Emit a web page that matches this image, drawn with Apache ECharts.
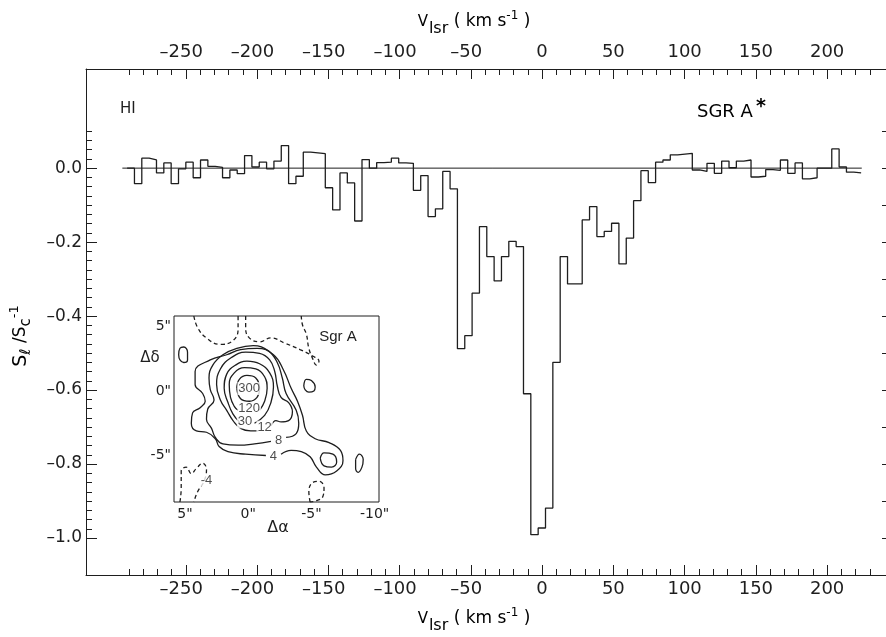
<!DOCTYPE html>
<html><head><meta charset="utf-8">
<script src="https://cdn.jsdelivr.net/npm/echarts@6/dist/echarts.min.js"></script>
<style>html,body{margin:0;padding:0;background:#fff}#c{width:886px;height:637px}</style>
</head><body><div id="c"></div>
<script>
// ---------------- data ----------------
// HI absorption spectrum toward Sgr A*: channel grid (km/s) and S_l/S_c - 1 per channel
const chanStart = -291.15;   // left edge of first channel
const chanWidth = 5.15;      // channel width
const absorption = [0.000,
 -0.042, 0.027, 0.022, -0.013, 0.014, -0.042, -0.002, 0.016, -0.026, 0.022,
  0.005, 0.002, -0.026, -0.005, -0.015, 0.034, 0.003, 0.016, -0.002, 0.019,
  0.061, -0.042, -0.022, 0.043, 0.041, 0.039, -0.053, -0.113, -0.013, -0.040,
 -0.143, 0.023, 0.000, 0.015, 0.016, 0.027, 0.014, 0.013, -0.060, -0.020,
 -0.131, -0.110, -0.009, -0.056, -0.488, -0.453, -0.338, -0.158, -0.239, -0.305,
 -0.239, -0.198, -0.212, -0.610, -0.991, -0.973, -0.919, -0.525, -0.239, -0.313,
 -0.313, -0.140, -0.104, -0.185, -0.171, -0.149, -0.259, -0.189, -0.088, -0.007,
 -0.039, 0.016, 0.022, 0.036, 0.038, 0.040, -0.005, -0.009, 0.013, -0.014,
  0.019, 0.001, 0.019, 0.022, -0.024, -0.022, -0.004, -0.006, 0.022, -0.014,
  0.014, -0.029, -0.026, 0.000, 0.000, 0.052, 0.003, -0.011, -0.013];
const zeroLineRange = [-294.5, 224.3];

// tick labels
const xMajorLabels = [-250, -200, -150, -100, -50, 0, 50, 100, 150, 200];
const yMajorLabels = [-1.0, -0.8, -0.6, -0.4, -0.2, 0.0];
const yRightTicks = [-1.0, -0.9, -0.8, -0.7, -0.6, -0.5, -0.4, -0.3, -0.2, -0.1, 0.0, 0.1];
const insetXLabels = [5, 0, -5, -10];
const insetYLabels = [5, 0, -5];

// inset: Sgr A continuum contour map (arcsec offsets)
const contour300 = [[0.9,0.2],[0.7,0.9],[0.1,1.2],[-0.6,1.0],[-0.9,0.2],[-0.7,-0.5],[-0.1,-0.8],[0.6,-0.6],[0.9,0.2]];
const contour120 = [[-0.9,-1.5],[-1.3,-0.8],[-1.5,0.2],[-1.3,1.1],[-0.6,1.7],[0.3,1.8],[1.1,1.4],[1.5,0.5],[1.4,-0.5],[1.1,-1.2],[0.8,-1.5]];
const contour30 = [[-0.5,-2.5],[-1.3,-1.9],[-1.8,-0.9],[-2.0,0.3],[-1.7,1.4],[-0.9,2.1],[0.1,2.3],[1.0,2.0],[1.7,1.3],[1.9,0.2],[1.6,-0.9],[1.2,-1.8],[0.7,-2.4]];
const contour12 = [[-1.8,-2.7],[-2.2,-2.3],[-2.6,-2.4],[-3.2,-2.3],[-3.5,-1.6],[-3.2,-0.9],[-2.6,-0.5],[-2.3,0.4],[-2.1,1.5],[-1.7,2.4],[-0.9,2.9],[0.2,3.0],[1.3,2.6],[2.2,1.7],[2.5,0.5],[2.2,-0.7],[1.7,-1.5],[1.2,-2.3],[0.6,-2.9],[-0.2,-3.1],[-0.8,-3.1]];
const contour8 = [[-3.0,-3.6],[-3.8,-3.3],[-4.0,-2.5],[-3.8,-1.5],[-3.0,-0.2],[-2.7,1.0],[-2.3,2.2],[-1.6,3.1],[-0.4,3.5],[0.9,3.3],[2.0,2.8],[2.8,2.0],[3.1,1.0],[3.0,0.1],[2.7,-0.7],[3.2,-1.4],[3.3,-2.2],[2.9,-2.9],[2.6,-3.6],[2.0,-4.1],[0.8,-4.2],[-0.5,-4.1],[-1.8,-3.9]];
const contour4 = [[-1.4,-5.0],[0.2,-4.9],[1.6,-4.7],[2.3,-4.3],[2.6,-3.7],[3.3,-3.2],[4.1,-3.1],[4.5,-2.5],[4.4,-1.7],[3.8,-1.3],[3.4,-0.8],[3.6,-0.2],[4.2,0.5],[4.2,1.5],[3.0,2.4],[1.7,2.8],[0.6,3.2],[-0.7,3.3],[-2.0,2.8],[-2.8,1.6],[-3.4,0.2],[-3.9,-0.8],[-4.3,-1.9],[-4.6,-3.1],[-5.3,-3.7],[-6.4,-4.0],[-7.3,-4.6],[-7.5,-5.4],[-7.0,-6.2],[-6.1,-6.5],[-5.4,-5.9],[-4.9,-5.1],[-4.2,-4.7],[-3.4,-4.6],[-2.6,-4.9]];
const lobe8 = [[-5.7,-5.2],[-6.0,-4.8],[-6.7,-4.9],[-7.0,-5.5],[-6.6,-5.9],[-6.0,-5.8],[-5.7,-5.2]];
const blobLeft = [[5.5,2.8],[5.4,3.3],[5.1,3.4],[4.8,3.0],[4.8,2.4],[5.1,2.2],[5.4,2.4],[5.5,2.8]];
const blobRight = [[-4.4,0.4],[-4.6,0.9],[-5.0,0.8],[-5.3,0.3],[-5.2,0.0],[-4.8,-0.1],[-4.5,0.1],[-4.4,0.4]];
const blobFar = [[-8.5,-5.3],[-8.8,-4.9],[-9.1,-5.3],[-9.0,-5.9],[-8.7,-6.3],[-8.5,-6.0],[-8.5,-5.3]];
const negTopLeft = [[4.3,5.8],[4.0,4.9],[3.3,4.1],[2.2,3.6],[1.2,3.9],[0.8,4.8],[0.8,5.8]];
const negTopRight = [[0.2,5.8],[0.2,5.0],[0.0,4.2],[-0.9,3.8],[-1.8,4.1],[-2.9,3.7],[-4.1,3.2],[-5.1,2.7],[-5.6,2.3],[-5.4,2.0],[-5.1,2.5],[-4.8,3.3],[-4.6,4.4],[-4.3,5.1],[-4.2,5.8]];
const negBottomLeft = [[5.4,-8.6],[5.3,-7.5],[5.3,-6.2],[4.9,-5.9],[4.5,-6.4],[4.1,-6.0],[3.6,-5.6],[3.3,-6.1],[3.5,-7.0],[4.0,-7.8],[4.3,-8.6]];
const negBottom = [[-4.9,-8.6],[-4.8,-7.8],[-5.1,-7.1],[-5.6,-7.0],[-6.0,-7.5],[-5.9,-8.2],[-5.4,-8.5],[-4.9,-8.6]];
const contourLabels = [[-0.08,0.18,'300'],[-0.08,-1.37,'120'],[0.25,-2.4,'30'],[-1.3,-2.8,'12'],[-2.4,-3.8,'8'],[-2.0,-5.1,'4'],[3.3,-6.9,'-4']];

// ---------------- build ----------------
const ink = '#1e1e1e';
const FONT = 'DejaVu Sans';
function range(a, b, s) { const r = []; for (let v = a; v <= b + 1e-9; v += s) r.push(Math.round(v * 1000) / 1000); return r; }
const xMinorTicks = range(-290, 230, 10);
const yMinorTicks = range(-1.0, 0.1, 0.025);

const histPoints = absorption.map((v, i) => [chanStart + i * chanWidth, v]);
histPoints.push([chanStart + absorption.length * chanWidth, absorption[absorption.length - 1]]);

const X0 = -320, X1 = 241.3, Y0 = -1.1, Y1 = 0.268;
function fmtX(v) { return v < 0 ? '{a|\u2013' + Math.abs(v) + '}{b| }' : '{a|' + v + '}'; }
function fmtY(v) { return (v < 0 ? '\u2013' : '') + Math.abs(v).toFixed(1); }
const xRich = { a: { fontFamily: FONT, fontSize: 18, color: ink }, b: { width: 9, fontSize: 18 } };

function mainX(pos, ticks, len, labels, extra) {
  return Object.assign({
    type: 'value', gridIndex: 0, position: pos, min: X0, max: X1,
    axisLine: { show: false, onZero: false },
    axisTick: { show: true, inside: true, length: len, customValues: ticks, lineStyle: { color: ink, width: 1 } },
    axisLabel: labels ? { show: true, customValues: xMajorLabels, formatter: fmtX, rich: xRich, margin: pos === 'top' ? 8 : 5 } : { show: false },
    splitLine: { show: false }
  }, extra || {});
}
function mainY(pos, ticks, len, labels, extra) {
  return Object.assign({
    type: 'value', gridIndex: 0, position: pos, min: Y0, max: Y1,
    axisLine: { show: false, onZero: false },
    axisTick: { show: true, inside: true, length: len, customValues: ticks, lineStyle: { color: ink, width: 1 } },
    axisLabel: labels ? { show: true, customValues: yMajorLabels, formatter: fmtY, margin: 4, fontFamily: FONT, fontSize: 17, color: ink } : { show: false },
    splitLine: { show: false }
  }, extra || {});
}
const lineOn = { axisLine: { show: true, onZero: false, lineStyle: { color: ink, width: 1 } } };

const IX0 = -10.35, IX1 = 5.87, IY0 = -8.6, IY1 = 5.8;
function insetX(pos, labels) {
  return {
    type: 'value', gridIndex: 1, position: pos, min: IX0, max: IX1, inverse: true,
    axisLine: { show: false, onZero: false },
    axisTick: { show: true, inside: true, length: 6, customValues: insetXLabels, lineStyle: { color: ink } },
    axisLabel: labels ? { show: true, customValues: insetXLabels, margin: 5, fontFamily: FONT, fontSize: 14, color: ink,
      formatter: v => (v < 0 ? '-' : '') + Math.abs(v) + '"' } : { show: false },
    splitLine: { show: false }
  };
}
function insetY(pos, labels) {
  return {
    type: 'value', gridIndex: 1, position: pos, min: IY0, max: IY1,
    axisLine: { show: false, onZero: false },
    axisTick: { show: true, inside: true, length: 6, customValues: insetYLabels, lineStyle: { color: ink } },
    axisLabel: labels ? { show: true, customValues: insetYLabels, margin: 3, fontFamily: FONT, fontSize: 14, color: ink,
      formatter: v => (v < 0 ? '-' : '') + Math.abs(v) + '"' } : { show: false },
    splitLine: { show: false }
  };
}

function contourSeries(pts, dashed) {
  return {
    type: 'line', xAxisIndex: 4, yAxisIndex: 3, data: pts, smooth: 0.45, symbol: 'none', silent: true,
    lineStyle: { color: ink, width: 1.3, type: dashed ? [4, 3] : 'solid' }, z: 6
  };
}

const solidContours = [contour300, contour120, contour30, contour12, contour8, contour4, lobe8, blobLeft, blobRight, blobFar];
const dashedContours = [negTopLeft, negTopRight, negBottomLeft, negBottom];

const series = [
  { type: 'line', xAxisIndex: 0, yAxisIndex: 0, data: [[zeroLineRange[0], 0], [zeroLineRange[1], 0]], symbol: 'none',
    lineStyle: { color: ink, width: 1 }, silent: true },
  { type: 'line', xAxisIndex: 0, yAxisIndex: 0, data: histPoints, step: 'end', symbol: 'none',
    lineStyle: { color: ink, width: 1.3 }, silent: true }
];
solidContours.forEach(c => series.push(contourSeries(c, false)));
dashedContours.forEach(c => series.push(contourSeries(c, true)));
series.push({
  type: 'scatter', xAxisIndex: 4, yAxisIndex: 3, data: contourLabels, symbolSize: 1, z: 7,
  itemStyle: { color: 'rgba(0,0,0,0)' },
  label: { show: true, position: 'inside', formatter: p => p.value[2], fontFamily: 'Liberation Sans', fontSize: 13,
    color: ink, backgroundColor: '#fff', padding: [0, 1] }
});

const nameRich = {
  v: { fontFamily: FONT, fontSize: 15, color: ink },
  s: { fontFamily: FONT, fontSize: 16, color: ink, padding: [14, 0, 0, 1] },
  t: { fontFamily: FONT, fontSize: 17, color: ink },
  p: { fontFamily: FONT, fontSize: 12, color: ink, padding: [0, 0, 12, 0] }
};
const xNameText = '{v|V}{s|lsr}{t| ( km s}{p|-1}{t| )}';
const yRich = {
  v: { fontFamily: FONT, fontSize: 19, color: ink },
  s: { fontFamily: FONT, fontSize: 15, color: ink, padding: [10, 0, 0, 0] },
  t: { fontFamily: FONT, fontSize: 17, color: ink },
  p: { fontFamily: FONT, fontSize: 13, color: ink, padding: [0, 0, 12, 0] }
};

const option = {
  animation: false,
  backgroundColor: '#fff',
  grid: [
    { left: 86, top: 69, width: 801, height: 506, show: false },
    { left: 174, top: 316, width: 205, height: 186, show: true, borderColor: ink, borderWidth: 1, backgroundColor: '#fff', z: 5 }
  ],
  xAxis: [
    mainX('bottom', xMinorTicks, 6, true, lineOn),
    mainX('bottom', xMajorLabels, 10, false),
    mainX('top', xMinorTicks, 6, true, lineOn),
    mainX('top', xMajorLabels, 10, false),
    insetX('bottom', true),
    insetX('top', false)
  ],
  yAxis: [
    mainY('left', yMinorTicks, 6, true, lineOn),
    mainY('left', yMajorLabels, 11, false),
    mainY('right', yRightTicks, 4, false, lineOn),
    insetY('left', true),
    insetY('right', false)
  ],
  series: series,
  graphic: [
    { type: 'text', x: 474, y: 22, style: { text: xNameText, rich: nameRich, align: 'center', verticalAlign: 'middle' } },
    { type: 'text', x: 474, y: 619, style: { text: xNameText, rich: nameRich, align: 'center', verticalAlign: 'middle' } },
    { type: 'text', x: 21, y: 336, rotation: Math.PI / 2,
      style: { text: '{v|S}{s|\u2113}{t| /S}{s|c}{p|-1}', rich: yRich, align: 'center', verticalAlign: 'middle' } },
    { type: 'text', x: 120, y: 109, style: { text: 'HI', fontFamily: FONT, fontSize: 15, fill: ink, verticalAlign: 'middle' } },
    { type: 'text', x: 697, y: 112, style: { text: '{t|SGR A}{p|*}', verticalAlign: 'middle',
      rich: { t: { fontFamily: FONT, fontSize: 18, color: ink }, p: { fontFamily: FONT, fontSize: 19, fontWeight: 'bold', color: ink, padding: [0, 0, 9, 3] } } } },
    { type: 'text', x: 338, y: 337, z: 10, style: { text: 'Sgr A', fontFamily: 'Liberation Sans', fontSize: 15, fill: ink, align: 'center', verticalAlign: 'middle' } },
    { type: 'text', x: 150, y: 358, style: { text: '\u0394\u03b4', fontFamily: FONT, fontSize: 15, fill: ink, align: 'center', verticalAlign: 'middle' } },
    { type: 'text', x: 278, y: 528, style: { text: '\u0394\u03b1', fontFamily: FONT, fontSize: 16, fill: ink, align: 'center', verticalAlign: 'middle' } }
  ]
};
const chart = echarts.init(document.getElementById('c'), null, { renderer: 'canvas' });
chart.setOption(option);
</script>
</body></html>
